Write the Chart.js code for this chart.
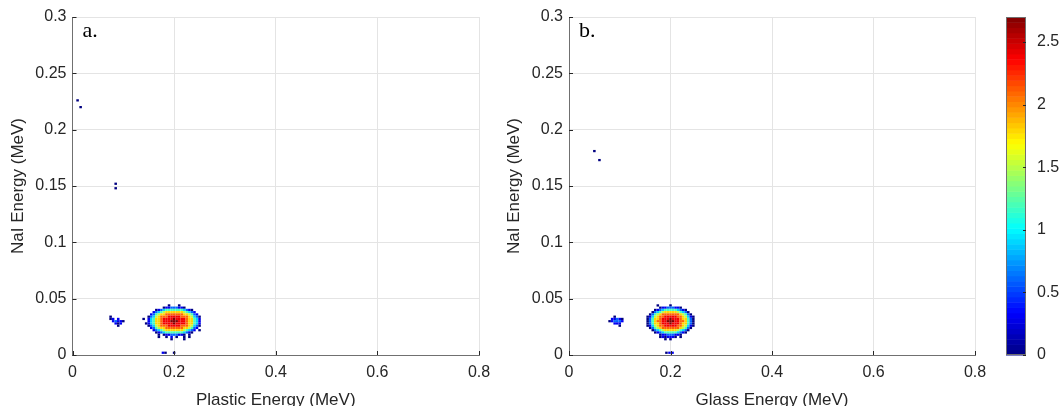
<!DOCTYPE html>
<html>
<head>
<meta charset="utf-8">
<script src="https://cdn.jsdelivr.net/npm/chart.js@4.4.1/dist/chart.umd.min.js"></script>
<style>
  html, body { margin: 0; padding: 0; background: #fff; }
  body { width: 1062px; height: 406px; position: relative; overflow: hidden; }
  canvas { position: absolute; top: 0; }
  #plastic { left: 0; }
  #glass { left: 496px; }
  #cbar { left: 990px; }
</style>
</head>
<body>
<canvas id="plastic" width="500" height="409"></canvas>
<canvas id="glass" width="504" height="409"></canvas>
<canvas id="cbar" width="72" height="406"></canvas>
<script>
// histogram bin size (MeV) and colour value of one level digit
const binX = 0.005
const binY = 0.002
const levelStep = 0.3

const xTicks = [0, 0.2, 0.4, 0.6, 0.8]
const yTicks = [0, 0.05, 0.1, 0.15, 0.2, 0.25, 0.3]
const colorTicks = [0, 0.5, 1, 1.5, 2, 2.5]
const colorMax = 2.7

// Plastic vs NaI: main peak, columns from x = 0.140, rows from y = 0.044 downwards
const plasticPeakX0 = 0.140
const plasticPeakYTop = 0.044
const plasticPeak = [
    "..........0...0........",
    "........011222110......",
    ".....012344444443210...",
    "....12345666666654321..",
    "...1245667777777665421.",
    "..023567778888877765320",
    "0.134667888898888766431",
    "..134667888999888766431",
    ".0134667888898888766431",
    "..023567778888877765320",
    "...1245667777777665421.",
    "....12345666666654321.0",
    ".....012344444443210...",
    "......0.011222110.0....",
    "......0..0.1.0..0.0....",
    "...........0....0......"
]
const plasticSideX0 = 0.075
const plasticSideYTop = 0.034
const plasticSide = [
    "0.....",
    "01.1..",
    ".12110",
    "..101.",
    "...0.."
]
// isolated bins [x, y, level]
const plasticStray = [
    [0.010, 0.226, 0], [0.016, 0.220, 0],
    [0.085, 0.152, 0], [0.085, 0.148, 0],
    [0.178, 0.002, 1], [0.183, 0.002, 0], [0.200, 0.002, 0]
]

// Glass vs NaI
const glassPeakX0 = 0.150
const glassPeakYTop = 0.044
const glassPeak = [
    ".....0....0.........",
    "......011222110.....",
    "....0123444443210...",
    "...023456666654320..",
    "..02456777777765420.",
    ".0135677888887765310",
    ".0246678889888766420",
    ".0246778899988776420",
    ".0246678889888766420",
    ".0135677888887765310",
    "..02456777777765420.",
    "...023456666654320..",
    "....0123444443210...",
    "......011222110.....",
    "......0101110.0.....",
    "........0.0........."
]
const glassSideX0 = 0.080
const glassSideYTop = 0.034
const glassSide = [
    "..0...",
    ".11210",
    "012221",
    "..111.",
    "....0."
]
const glassStray = [
    [0.050, 0.181, 0], [0.060, 0.173, 0],
    [0.192, 0.002, 0], [0.198, 0.002, 1], [0.204, 0.002, 1]
]

const textColor = '#262626'
const axisColor = '#707070'
const gridColor = '#e4e4e4'
const family = '"Liberation Sans", Arial, Helvetica, sans-serif'
const tickFont = { family, size: 16 }
const labelFont = { family, size: 17, lineHeight: 1 }

// MATLAB style jet colormap
function jet(t) {
    t = Math.min(1, Math.max(0, t))
    const c = v => Math.round(255 * Math.min(1, Math.max(0, v)))
    return `rgb(${c(1.5 - Math.abs(4 * t - 3))},${c(1.5 - Math.abs(4 * t - 2))},${c(1.5 - Math.abs(4 * t - 1))})`
}

// turn digit rows into histogram cells
function gridCells(rows, x0, yTop) {
    const cells = []
    rows.forEach((row, r) => {
        for (let i = 0; i < row.length; i++) {
            if (row[i] === '.') continue
            cells.push({ x: x0 + i * binX, y: yTop - r * binY, v: Number(row[i]) * levelStep })
        }
    })
    return cells
}

function strayCells(list) {
    return list.map(([x, y, l]) => ({ x, y, v: l * levelStep }))
}

// fills every data cell as a bin rectangle using the chart scales
const heatLayer = {
    id: 'heatLayer',
    beforeDatasetsDraw(chart) {
        const { ctx, chartArea, scales: { x, y } } = chart
        ctx.save()
        ctx.beginPath()
        ctx.rect(chartArea.left, chartArea.top, chartArea.width, chartArea.height)
        ctx.clip()
        chart.data.datasets[0].data.forEach(c => {
            const l = x.getPixelForValue(c.x - binX / 2)
            const r = x.getPixelForValue(c.x + binX / 2)
            const t = y.getPixelForValue(c.y + binY / 2)
            const b = y.getPixelForValue(c.y - binY / 2)
            ctx.fillStyle = jet(c.v / colorMax)
            ctx.fillRect(l, t, r - l, b - t)
        })
        ctx.restore()
    }
}

// inward tick marks and the panel letter
const panelDecor = {
    id: 'panelDecor',
    afterDraw(chart, args, opts) {
        const { ctx, chartArea, scales: { x, y } } = chart
        ctx.save()
        ctx.strokeStyle = textColor
        ctx.lineWidth = 1
        ctx.beginPath()
        x.ticks.forEach(t => {
            const px = Math.round(x.getPixelForValue(t.value)) + 0.5
            ctx.moveTo(px, chartArea.bottom)
            ctx.lineTo(px, chartArea.bottom - 4)
        })
        y.ticks.forEach(t => {
            const py = Math.round(y.getPixelForValue(t.value)) + 0.5
            ctx.moveTo(chartArea.left, py)
            ctx.lineTo(chartArea.left + 4, py)
        })
        ctx.stroke()
        ctx.fillStyle = '#000'
        ctx.font = '22px "Liberation Serif", "Times New Roman", serif'
        ctx.textBaseline = 'alphabetic'
        ctx.fillText(opts.text, chartArea.left + 10, chartArea.top + 20)
        ctx.restore()
    }
}

function fixedTicks(list) {
    return scale => { scale.ticks = list.map(v => ({ value: v })) }
}

function panelChart(id, xTitle, tag, cells, axisWidth, padRight) {
    return new Chart(document.getElementById(id), {
        type: 'scatter',
        data: { datasets: [{ data: cells, pointRadius: 0, pointHoverRadius: 0 }] },
        options: {
            responsive: false,
            animation: false,
            devicePixelRatio: 1,
            layout: { padding: { top: 17, right: padRight, left: 0, bottom: 0 } },
            plugins: {
                legend: { display: false },
                tooltip: { enabled: false },
                panelDecor: { text: tag }
            },
            scales: {
                x: {
                    type: 'linear', min: 0, max: 0.8,
                    afterBuildTicks: fixedTicks(xTicks),
                    afterFit: s => { s.height = 54 },
                    grid: { color: gridColor, drawTicks: false },
                    border: { color: axisColor },
                    ticks: { padding: 8, color: textColor, font: tickFont, autoSkip: false, maxRotation: 0, callback: v => String(v) },
                    title: { display: true, text: xTitle, color: textColor, font: labelFont, padding: { top: 0, bottom: 0 } }
                },
                y: {
                    type: 'linear', min: 0, max: 0.3,
                    afterBuildTicks: fixedTicks(yTicks),
                    afterFit: s => { s.width = axisWidth },
                    grid: { color: gridColor, drawTicks: false },
                    border: { color: axisColor },
                    ticks: { padding: 6, color: textColor, font: tickFont, autoSkip: false, callback: v => String(v) },
                    title: { display: true, text: 'NaI Energy (MeV)', color: textColor, font: labelFont, padding: { top: 10, bottom: 0 } }
                }
            }
        },
        plugins: [heatLayer, panelDecor]
    })
}

panelChart('plastic', 'Plastic Energy (MeV)', 'a.',
    gridCells(plasticPeak, plasticPeakX0, plasticPeakYTop)
        .concat(gridCells(plasticSide, plasticSideX0, plasticSideYTop))
        .concat(strayCells(plasticStray)),
    72.5, 21)

panelChart('glass', 'Glass Energy (MeV)', 'b.',
    gridCells(glassPeak, glassPeakX0, glassPeakYTop)
        .concat(gridCells(glassSide, glassSideX0, glassSideYTop))
        .concat(strayCells(glassStray)),
    73, 25)

// colour bar: jet bands stacked along the value scale
const colorBand = {
    id: 'colorBand',
    beforeDatasetsDraw(chart) {
        const { ctx, chartArea, scales: { y } } = chart
        const n = 64
        ctx.save()
        for (let k = 0; k < n; k++) {
            const lo = y.getPixelForValue(colorMax * k / n)
            const hi = y.getPixelForValue(colorMax * (k + 1) / n)
            ctx.fillStyle = jet((k + 0.5) / n)
            ctx.fillRect(chartArea.left, hi, chartArea.width, lo - hi + 0.5)
        }
        ctx.strokeStyle = axisColor
        ctx.lineWidth = 1
        ctx.strokeRect(chartArea.left + 0.5, chartArea.top + 0.5, chartArea.width - 1, chartArea.height - 1)
        ctx.strokeStyle = textColor
        ctx.beginPath()
        y.ticks.forEach(t => {
            const py = Math.round(y.getPixelForValue(t.value)) + 0.5
            ctx.moveTo(chartArea.right, py)
            ctx.lineTo(chartArea.right - 3, py)
        })
        ctx.stroke()
        ctx.restore()
    }
}

new Chart(document.getElementById('cbar'), {
    type: 'scatter',
    data: { datasets: [] },
    options: {
        responsive: false,
        animation: false,
        devicePixelRatio: 1,
        layout: { padding: { top: 17, bottom: 51, left: 16, right: 0 } },
        plugins: { legend: { display: false }, tooltip: { enabled: false } },
        scales: {
            x: { display: false, min: 0, max: 1 },
            y: {
                position: 'right', min: 0, max: colorMax,
                afterBuildTicks: fixedTicks(colorTicks),
                afterFit: s => { s.width = 36 },
                grid: { display: false },
                border: { display: false },
                ticks: { padding: 3, color: textColor, font: tickFont, callback: v => String(v) }
            }
        }
    },
    plugins: [colorBand]
})
</script>
</body>
</html>
